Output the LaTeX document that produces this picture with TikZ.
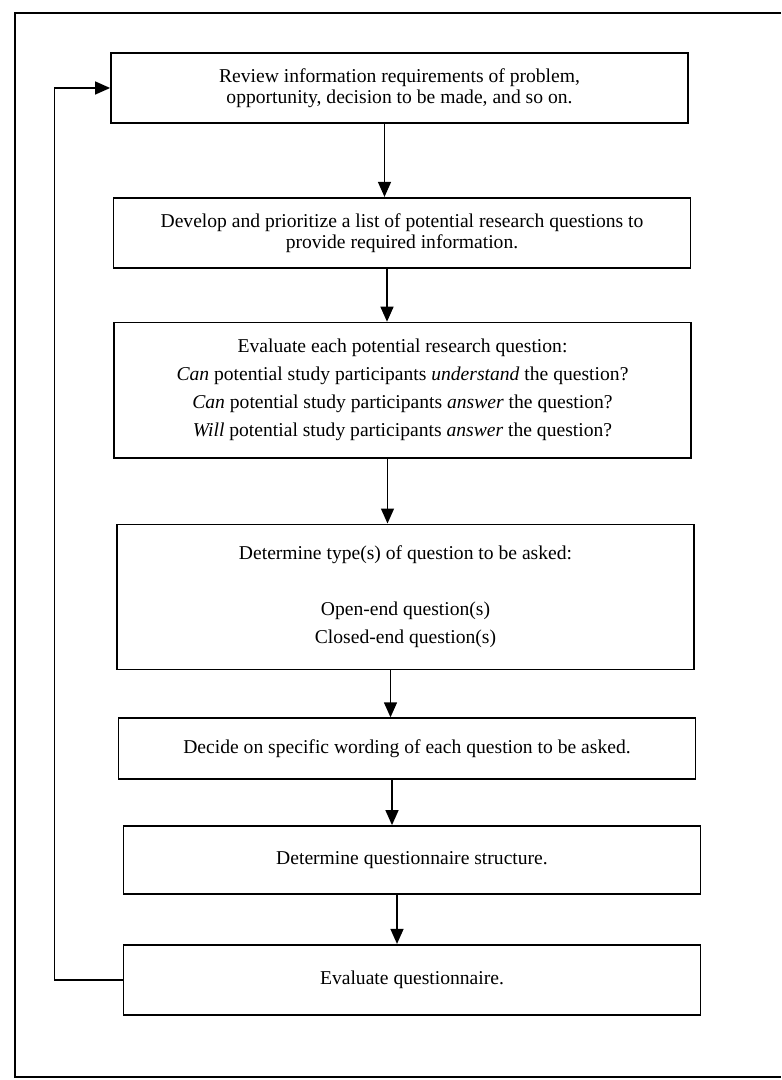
\documentclass[tikz,border=0pt]{standalone}
\usepackage{fontspec}
\setmainfont{Liberation Serif}
\usetikzlibrary{positioning,arrows.meta,calc}

\begin{document}
\begin{tikzpicture}[
      stage/.style={rectangle, draw=black, line width=0.9pt, minimum width=288.5pt,
                    align=center, inner sep=0pt, font=\fontsize{9.8}{10.5}\selectfont},
      roomy/.style={font=\fontsize{9.8}{14}\selectfont},
      arr/.style={-{Triangle[length=7.5pt,width=6.5pt]}, line width=0.7pt}]
      \useasboundingbox (0,0) rectangle (390.5pt,-540pt);
      % frame of the figure
      \draw[line width=1pt] (390.5pt,-6.5pt) -- (7.5pt,-6.5pt) -- (7.5pt,-538.5pt) -- (390.5pt,-538.5pt);
      \node[stage, minimum height=35pt] (review) at (199.75pt,-44pt)
            {Review information requirements of problem,\\opportunity, decision to be made, and so on.};
      \node[stage, minimum height=35pt, below=36.5pt of review, xshift=1.25pt] (develop)
            {Develop and prioritize a list of potential research questions to\\provide required information.};
      \node[stage, roomy, minimum height=67.5pt, below=26.5pt of develop, xshift=0.25pt] (evaluate)
            {Evaluate each potential research question:\\
             \textit{Can} potential study participants \textit{understand} the question?\\
             \textit{Can} potential study participants \textit{answer} the question?\\
             \textit{Will} potential study participants \textit{answer} the question?};
      \node[stage, roomy, minimum height=72.5pt, below=32.5pt of evaluate, xshift=1.5pt] (types)
            {Determine type(s) of question to be asked:\\[14pt]Open-end question(s)\\Closed-end question(s)};
      \node[stage, minimum height=30.5pt, below=23.5pt of types, xshift=0.75pt] (wording)
            {Decide on specific wording of each question to be asked.};
      \node[stage, minimum height=34pt, below=22.5pt of wording, xshift=2.5pt] (structure)
            {Determine questionnaire structure.};
      \node[stage, minimum height=35pt, below=24.5pt of structure] (evalq)
            {Evaluate questionnaire.};
      \foreach \a/\b in {review/develop, develop/evaluate, evaluate/types,
                         types/wording, wording/structure, structure/evalq}
        \draw[arr] ([xshift=-7.5pt]\a.south) -- ([xshift=-7.5pt]\a.south |- \b.north);
      % loop back to the start
      \coordinate (back) at ([xshift=-34pt]evalq.west);
      \draw[arr] (evalq.west) -- (back) |- (review.west);
    \end{tikzpicture}
\end{document}
